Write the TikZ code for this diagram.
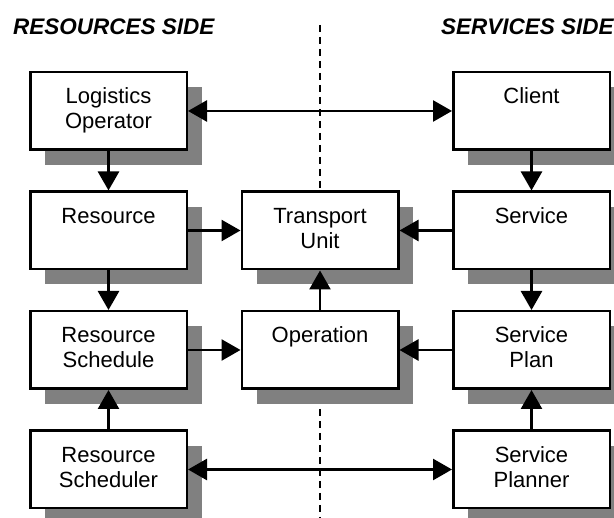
\documentclass[tikz,border=0pt]{standalone}
\usepackage{fontspec}
\setmainfont{Liberation Sans}
\usepackage{tikz}
\usetikzlibrary{arrows.meta,positioning,shadows}
\definecolor{shadowgray}{RGB}{128,128,128}

\begin{document}
\begin{tikzpicture}[
        x=1pt, y=1pt,
        node distance=39.5pt and 52.5pt,
        % two text lines per box, the second one may stay empty
        unit/.style={rectangle, draw=black, line width=2.5pt, fill=white, minimum width=156.5pt, minimum height=77.5pt, inner sep=0pt, align=center, text height=41pt, text depth=5pt, font=\fontsize{22}{25}\selectfont, drop shadow={shadow xshift=15pt, shadow yshift=-15pt, fill=shadowgray, opacity=1}},
        link/.style={-{Triangle[length=19pt, width=21pt]}, line width=2.5pt},
        twoway/.style={{Triangle[length=19pt, width=21pt]}-{Triangle[length=19pt, width=21pt]}, line width=2.5pt},
        side/.style={anchor=base west, inner sep=0pt, font=\fontsize{22.5}{25}\selectfont\bfseries\itshape},
        divider/.style={line width=2.7pt, dash pattern=on 7pt off 5pt}
    ]
        \useasboundingbox (0,0) rectangle (614,-518);

        % split between the two sides
        \draw[divider] (320,-25) -- (320,-518);

        \node[side] (restitle) at (13,-34.3) {RESOURCES SIDE};
        \node[side] (sertitle) at (441,-34.3) {SERVICES SIDE};

        % resources column
        \node[unit] (logop) at (108.5,-111) {Logistics\\Operator};
        \node[unit, below=of logop] (resource) {Resource\\\mbox{}};
        \node[unit, below=of resource] (schedule) {Resource\\Schedule};
        \node[unit, below=of schedule] (scheduler) {Resource\\Scheduler};

        % middle column
        \node[unit, right=of resource] (tunit) {Transport\\Unit};
        \node[unit, right=of schedule] (operation) {Operation\\\mbox{}};

        % services column
        \node[unit, right=of tunit] (service) {Service\\\mbox{}};
        \node[unit, above=of service] (client) {Client\\\mbox{}};
        \node[unit, below=of service] (plan) {Service\\Plan};
        \node[unit, below=of plan] (planner) {Service\\Planner};

        \draw[twoway] (logop) -- (client);
        \draw[link] (logop) -- (resource);
        \draw[link] (client) -- (service);
        \draw[link] (resource) -- (tunit);
        \draw[link] (service) -- (tunit);
        \draw[link] (resource) -- (schedule);
        \draw[link] (service) -- (plan);
        \draw[link] (schedule) -- (operation);
        \draw[link] (plan) -- (operation);
        \draw[link] (operation) -- (tunit);
        \draw[link] (scheduler) -- (schedule);
        \draw[link] (planner) -- (plan);
        \draw[twoway] (scheduler) -- (planner);
    \end{tikzpicture}
\end{document}
